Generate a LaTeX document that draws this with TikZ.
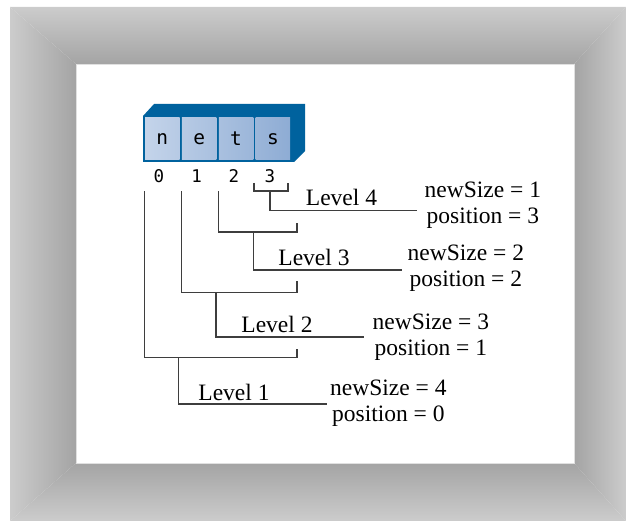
\documentclass[tikz,border=0pt]{standalone}
\usepackage{fontspec}
\setmainfont{Liberation Serif}
\newfontfamily\monofont{DejaVu Sans Mono}
\definecolor{boxblue}{RGB}{0,98,158}
\definecolor{cellA}{RGB}{196,212,234}
\definecolor{cellB}{RGB}{142,172,212}
\definecolor{frameout}{RGB}{204,204,204}
\definecolor{framein}{RGB}{164,164,164}
\definecolor{linegray}{RGB}{62,62,62}
\begin{document}
\begin{tikzpicture}[x=1pt,y=-1pt,
  tree/.style={draw=linegray,line width=1.3pt},
  cell/.style={minimum width=34.5pt,minimum height=42pt,inner sep=0pt,
    font=\monofont\fontsize{19.5}{20}\selectfont},
  idx/.style={inner sep=0pt,font=\monofont\fontsize{17.5}{18}\selectfont},
  lvl/.style={anchor=base,inner sep=0pt,font=\fontsize{23.5}{25}\selectfont},
  info/.style={anchor=west,align=center,inner sep=0pt,
    font=\fontsize{23.5}{25.5}\selectfont}]
  \useasboundingbox (0,0) rectangle (626,521);
  % bevelled frame
  \shade[top color=frameout,bottom color=framein] (10,7)--(626,7)--(574,64)--(76,64)--cycle;
  \shade[left color=frameout,right color=framein] (10,7)--(76,64)--(76,463)--(10,521)--cycle;
  \shade[left color=framein,right color=frameout] (626,7)--(574,64)--(574,463)--(626,521)--cycle;
  \shade[top color=framein,bottom color=frameout] (76,463)--(574,463)--(626,521)--(10,521)--cycle;
  \filldraw[fill=white,draw=black!12,line width=.8pt] (76,64) rectangle (574,463);
  % the array nets
  \fill[boxblue] (143,116)--(154,104)--(305,104)--(305,151)--(294,162)--(143,162)--cycle;
  \foreach \ch [count=\k from 0] in {n,e,t,s} {
    \pgfmathtruncatemacro\pa{\k*25}
    \pgfmathtruncatemacro\pb{\k*25+25}
    \node[cell,left color=cellB!\pa!cellA,right color=cellB!\pb!cellA]
      (c\k) at ({162.25+36.9*\k},139) {\ch};
  }
  \foreach \d/\x in {0/159,1/196.7,2/234,3/270}
    \node[idx] (d\d) at (\x,176.5) {\d};
  % recursion levels
  \coordinate (top) at (0,191.5);
  \coordinate (rt) at (297,0);
  \coordinate (p3) at (254,183);
  \coordinate (q3) at (288,183);
  \coordinate (s4) at (270,191);
  \coordinate (s3) at (253.5,232);
  \coordinate (s2) at (216,292.3);
  \coordinate (s1) at (178.7,357.7);
  \coordinate (e4) at (417,210.5);
  \coordinate (e3) at (402,270);
  \coordinate (e2) at (364,337);
  \coordinate (e1) at (327,404);
  \draw[tree] (p3) |- (s4) -| (q3);
  \draw[tree] (s4) |- (e4);
  \draw[tree] (c2.west |- top) |- (rt |- s3) -- ++(0,-9);
  \draw[tree] (s3) |- (e3);
  \draw[tree] (c1.west |- top) |- (rt |- s2) -- ++(0,-11);
  \draw[tree] (s2) |- (e2);
  \draw[tree] (c0.west |- top) |- (rt |- s1) -- ++(0,-8.5);
  \draw[tree] (s1) |- (e1);
  \node[lvl] (l4) at (341.5,205.5) {Level 4};
  \node[lvl] (l3) at (314,265.5) {Level 3};
  \node[lvl] (l2) at (277,332.5) {Level 2};
  \node[lvl] (l1) at (234,400) {Level 1};
  \node[info] (n4) at (424.5,205) {newSize = 1\\position = 3};
  \node[info] (n3) at (407.5,268) {newSize = 2\\position = 2};
  \node[info] (n2) at (372.5,337) {newSize = 3\\position = 1};
  \node[info] (n1) at (330,403) {newSize = 4\\position = 0};
\end{tikzpicture}
\end{document}
